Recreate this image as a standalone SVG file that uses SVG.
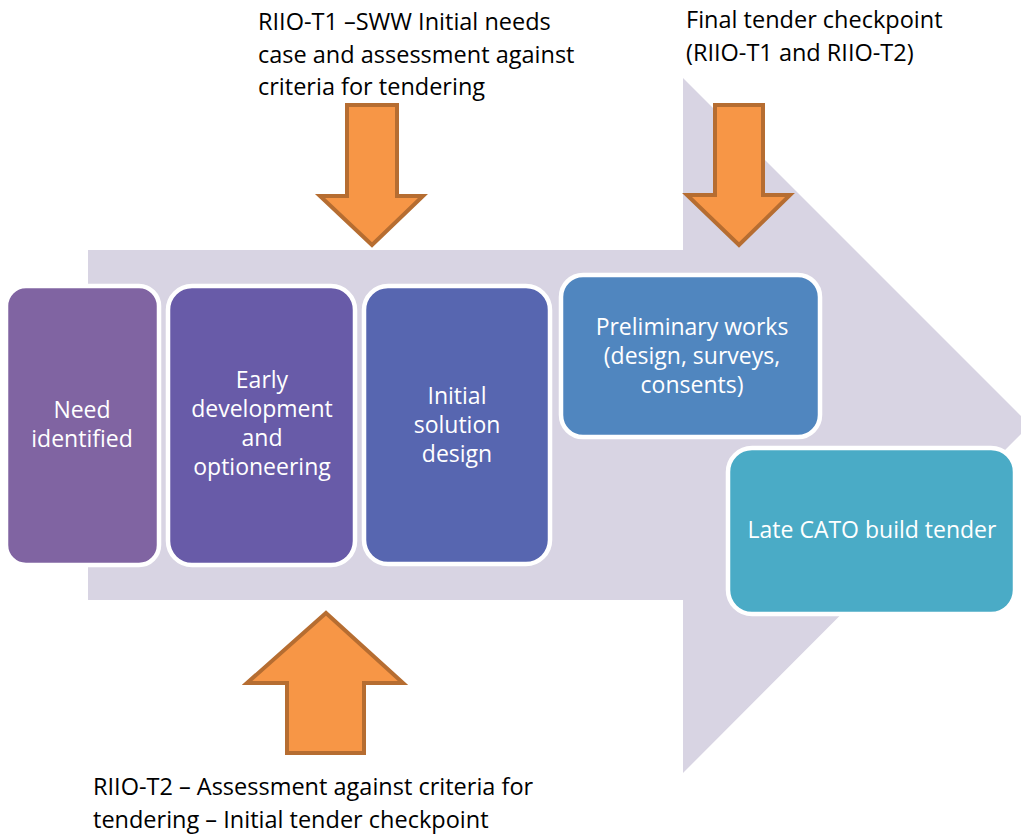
<svg xmlns="http://www.w3.org/2000/svg" width="1021" height="836" viewBox="0 0 1021 836">
  <style>
    .node rect { stroke: #ffffff; stroke-width: 4.5; }
    .node text { fill: #ffffff; font-family: "Open Sans", "Noto Sans", sans-serif; font-size: 23px; text-anchor: middle; }
    .label { fill: #000000; font-family: "Open Sans", "Noto Sans", sans-serif; font-size: 23.5px; }
    .pointer { fill: #f79646; stroke: #b66d31; stroke-width: 4; stroke-linejoin: miter; }
  </style>

  <rect width="1021" height="836" fill="#ffffff"/>

  <!-- large process arrow in the background -->
  <polygon points="88,250 683,250 683,78 1030,425 683,773 683,600 88,600" fill="#d8d4e3"/>

  <!-- stage boxes -->
  <g id="need-identified" class="node">
    <rect x="6" y="286" width="153" height="279" rx="20" fill="#8064a2"/>
    <text x="82" y="418">Need</text>
    <text x="82" y="447">identified</text>
  </g>

  <g id="early-development" class="node">
    <rect x="168" y="286" width="187" height="279" rx="24" fill="#685ba8"/>
    <text x="262" y="388">Early</text>
    <text x="262" y="417">development</text>
    <text x="262" y="446">and</text>
    <text x="262" y="475">optioneering</text>
  </g>

  <g id="initial-solution-design" class="node">
    <rect x="364" y="286" width="186" height="278" rx="24" fill="#5766b0"/>
    <text x="457" y="404">Initial</text>
    <text x="457" y="433">solution</text>
    <text x="457" y="462">design</text>
  </g>

  <g id="preliminary-works" class="node">
    <rect x="561" y="275" width="259" height="162" rx="22" fill="#5086bf"/>
    <text x="692" y="335">Preliminary works</text>
    <text x="692" y="364">(design, surveys,</text>
    <text x="692" y="393">consents)</text>
  </g>

  <g id="late-cato-build-tender" class="node">
    <rect x="728" y="448" width="287" height="166" rx="24" fill="#4aabc6"/>
    <text x="872" y="538">Late CATO build tender</text>
  </g>

  <!-- checkpoint arrows -->
  <g id="connectors">
    <polygon class="pointer" points="347,105 397,105 397,196 423,196 372,245 320,196 347,196"/>
    <polygon class="pointer" points="715,105 763,105 763,195 790,195 739,245 687,195 715,195"/>
    <polygon class="pointer" points="326,613 403,683 364,683 364,753 287,753 287,683 247,683"/>
  </g>

  <!-- checkpoint captions -->
  <g id="caption-t1">
    <text class="label" x="258" y="30">RIIO-T1 –SWW Initial needs</text>
    <text class="label" x="258" y="63">case and assessment against</text>
    <text class="label" x="258" y="95">criteria for tendering</text>
  </g>
  <g id="caption-final">
    <text class="label" x="686" y="28">Final tender checkpoint</text>
    <text class="label" x="686" y="61">(RIIO-T1 and RIIO-T2)</text>
  </g>
  <g id="caption-t2">
    <text class="label" x="93" y="795">RIIO-T2 – Assessment against criteria for</text>
    <text class="label" x="93" y="828">tendering – Initial tender checkpoint</text>
  </g>
</svg>
